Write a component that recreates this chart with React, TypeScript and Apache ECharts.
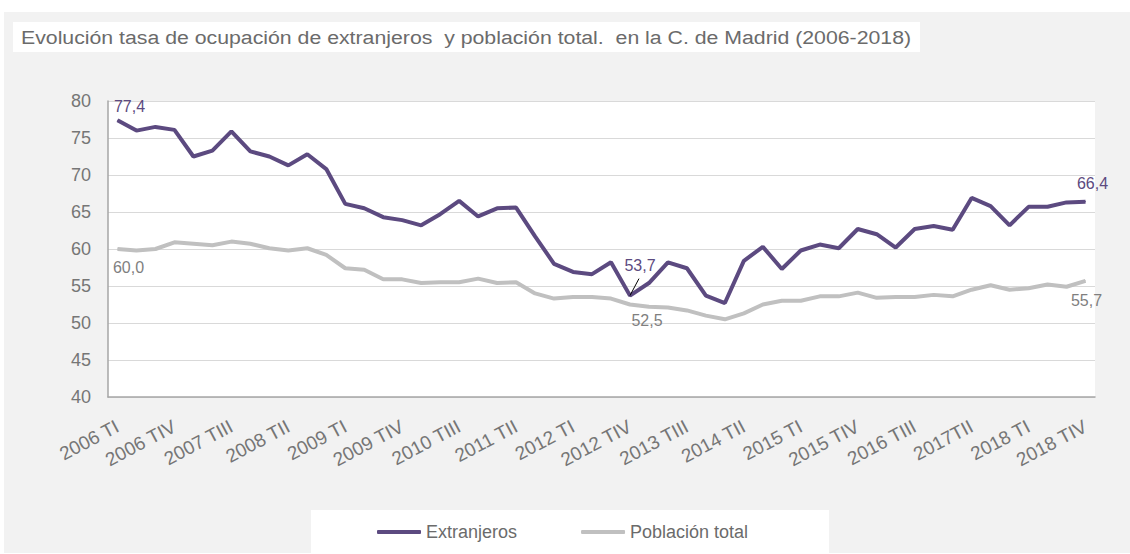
import React, { useEffect, useRef } from "react";
import * as echarts from "echarts";

const categories = [
  "2006 TI", "2006 TII", "2006 TIII", "2006 TIV",
  "2007 TI", "2007 TII", "2007 TIII", "2007 TIV",
  "2008 TI", "2008 TII", "2008 TIII", "2008 TIV",
  "2009 TI", "2009 TII", "2009 TIII", "2009 TIV",
  "2010 TI", "2010 TII", "2010 TIII", "2010 TIV",
  "2011 TI", "2011 TII", "2011 TIII", "2011 TIV",
  "2012 TI", "2012 TII", "2012 TIII", "2012 TIV",
  "2013 TI", "2013 TII", "2013 TIII", "2013 TIV",
  "2014 TI", "2014 TII", "2014 TIII", "2014 TIV",
  "2015 TI", "2015 TII", "2015 TIII", "2015 TIV",
  "2016 TI", "2016 TII", "2016 TIII", "2016 TIV",
  "2017 TI", "2017TII", "2017 TIII", "2017 TIV",
  "2018 TI", "2018 TII", "2018 TIII", "2018 TIV",
];

const extranjeros = [
  77.4, 76.0, 76.5, 76.1, 72.5, 73.3, 75.9, 73.2, 72.5, 71.3,
  72.8, 70.8, 66.1, 65.5, 64.3, 63.9, 63.2, 64.7, 66.5, 64.4,
  65.5, 65.6, 61.7, 58.0, 56.9, 56.6, 58.2, 53.7, 55.4, 58.2,
  57.4, 53.7, 52.7, 58.4, 60.3, 57.3, 59.8, 60.6, 60.1, 62.7,
  62.0, 60.2, 62.7, 63.1, 62.6, 66.9, 65.8, 63.2, 65.7, 65.7,
  66.3, 66.4,
];

const poblacion = [
  60.0, 59.8, 60.0, 60.9, 60.7, 60.5, 61.0, 60.7, 60.1, 59.8,
  60.1, 59.2, 57.4, 57.2, 55.9, 55.9, 55.4, 55.5, 55.5, 56.0,
  55.4, 55.5, 54.0, 53.3, 53.5, 53.5, 53.3, 52.5, 52.2, 52.1,
  51.7, 51.0, 50.5, 51.3, 52.5, 53.0, 53.0, 53.6, 53.6, 54.1,
  53.4, 53.5, 53.5, 53.8, 53.6, 54.5, 55.1, 54.5, 54.7, 55.2,
  54.9, 55.7,
];

const seriesNames = ["Extranjeros", "Población total"];
const titleText =
  "Evolución tasa de ocupación de extranjeros  y población total.  en la C. de Madrid (2006-2018)";

const PURPLE = "#5c4a80";
const GRAY = "#c0c0c0";
const FONT = "'Liberation Sans', Arial, sans-serif";

// indices of labelled points and their label placement
const extLabels: Record<number, any> = {
  0: { position: "top", offset: [12, 0] },
  27: { position: "top", offset: [10, -17] },
  51: { position: "top", offset: [7, -5] },
};
const popLabels: Record<number, any> = {
  0: { position: "bottom", offset: [11, 5] },
  27: { position: "bottom", offset: [17, 2] },
  51: { position: "bottom", offset: [1, 6] },
};

function buildData(values: number[], labels: Record<number, any>, color: string) {
  return values.map((v, i) =>
    labels[i]
      ? {
          value: v,
          label: {
            show: true,
            ...labels[i],
            color,
            fontSize: 16,
            fontFamily: FONT,
            formatter: (p: any) => Number(p.value).toFixed(1).replace(".", ","),
          },
        }
      : v
  );
}

export default function App() {
  const ref = useRef<HTMLDivElement>(null);

  useEffect(() => {
    if (!ref.current) return;
    const chart = echarts.init(ref.current, undefined, { renderer: "svg" });

    const baseGraphics: any[] = [
      {
        id: "bg",
        type: "rect",
        z: -100,
        shape: { x: 4, y: 12, width: 1126, height: 541 },
        style: { fill: "#f2f2f2" },
      },
      {
        id: "titleBox",
        type: "rect",
        z: -90,
        shape: { x: 13, y: 22, width: 907, height: 30 },
        style: { fill: "#ffffff" },
      },
      {
        id: "titleText",
        type: "text",
        x: 21,
        y: 37,
        scaleX: 1.12,
        style: {
          text: titleText,
          fill: "#6b6b6b",
          font: `19px ${FONT}`,
          textVerticalAlign: "middle",
        },
      },
      {
        id: "legendBox",
        type: "rect",
        z: -90,
        shape: { x: 311, y: 510, width: 518, height: 43 },
        style: { fill: "#ffffff" },
      },
    ];

    const option: any = {
      animation: false,
      backgroundColor: "#ffffff",
      textStyle: { fontFamily: FONT },
      graphic: { elements: baseGraphics },
      grid: {
        left: 108,
        top: 101,
        width: 987,
        height: 296,
        show: true,
        backgroundColor: "#ffffff",
        borderWidth: 0,
        containLabel: false,
      },
      legend: {
        data: seriesNames,
        left: 372,
        top: 518,
        itemWidth: 44,
        itemHeight: 4,
        itemGap: 64,
        icon: "roundRect",
        textStyle: { color: "#6b6b6b", fontSize: 18, fontFamily: FONT },
      },
      xAxis: {
        type: "category",
        data: categories,
        boundaryGap: true,
        axisLine: { show: true, lineStyle: { color: "#a6a6a6", width: 1.5 } },
        axisTick: { show: false },
        axisLabel: {
          interval: 2,
          rotate: 28,
          margin: 28,
          color: "#767676",
          fontSize: 19,
          fontFamily: FONT,
        },
        splitLine: { show: false },
      },
      yAxis: {
        type: "value",
        min: 40,
        max: 80,
        interval: 5,
        axisLine: { show: true, lineStyle: { color: "#a6a6a6", width: 1.5 } },
        axisTick: { show: false },
        axisLabel: {
          margin: 17,
          color: "#767676",
          fontSize: 18,
          fontFamily: FONT,
        },
        splitLine: { show: true, lineStyle: { color: "#d9d9d9", width: 1 } },
      },
      series: [
        {
          name: seriesNames[0],
          type: "line",
          data: buildData(extranjeros, extLabels, PURPLE),
          symbol: "circle",
          symbolSize: 1,
          showSymbol: true,
          itemStyle: { color: PURPLE },
          lineStyle: { color: PURPLE, width: 4 },
          z: 3,
        },
        {
          name: seriesNames[1],
          type: "line",
          data: buildData(poblacion, popLabels, "#7f7f7f"),
          symbol: "circle",
          symbolSize: 1,
          showSymbol: true,
          itemStyle: { color: GRAY },
          lineStyle: { color: GRAY, width: 4 },
          z: 2,
        },
      ],
    };

    chart.setOption(option);

    const p = chart.convertToPixel({ seriesIndex: 0 }, [27, extranjeros[27]]) as number[];
    if (p && p.length === 2) {
      chart.setOption({
        graphic: {
          elements: [
            ...baseGraphics,
            {
              id: "leader",
              type: "line",
              z: 10,
              shape: { x1: p[0], y1: p[1], x2: p[0] + 9, y2: p[1] - 17 },
              style: { stroke: "#000000", lineWidth: 1 },
            },
          ],
        },
      });
    }

    return () => chart.dispose();
  }, []);

  return (
    <div
      ref={ref}
      style={{ position: "absolute", left: 0, top: 0, width: 1130, height: 554 }}
    />
  );
}
